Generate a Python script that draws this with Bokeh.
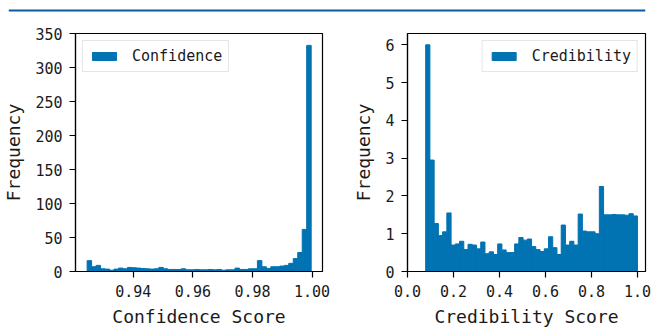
import numpy as np
from bokeh.plotting import figure
from bokeh.layouts import column, row
from bokeh.models import Range1d, FixedTicker, NumeralTickFormatter, Span, Legend, LegendItem, ColumnDataSource
from bokeh.embed import file_html
from bokeh.resources import INLINE

# ---------------- data ----------------
conf_lo, conf_hi = 0.9245, 0.9997
conf_counts = [16, 7, 9, 4, 3.5, 2, 3.5, 5, 4, 6,
               5.5, 5, 4.5, 4, 3.5, 4, 6, 4, 3, 3,
               3, 4, 2.5, 2.5, 3, 2.5, 2.5, 3, 2.5, 3,
               2, 2.5, 2.5, 5, 3, 3, 4, 4, 16, 7,
               4.5, 7, 7, 8, 9, 12, 19, 28, 62, 333]
cred_lo, cred_hi = 0.079, 1.0
cred_density = [6.0, 2.95, 1.27, 0.95, 1.05, 1.55, 0.70, 0.73, 0.80, 0.58,
                0.72, 0.70, 0.60, 0.78, 0.47, 0.52, 0.45, 0.73, 0.57, 0.50,
                0.50, 0.73, 0.90, 0.83, 0.86, 0.66, 0.58, 0.53, 0.60, 0.92,
                0.63, 0.45, 1.23, 0.70, 0.80, 0.70, 1.52, 1.07, 1.05, 1.05,
                1.00, 2.25, 1.50, 1.50, 1.51, 1.50, 1.50, 1.49, 1.53, 1.47]
conf_xticks = [0.94, 0.96, 0.98, 1.00]
conf_yticks = [0, 50, 100, 150, 200, 250, 300, 350]
cred_xticks = [0.0, 0.2, 0.4, 0.6, 0.8, 1.0]
cred_yticks = [0, 1, 2, 3, 4, 5, 6]

BAR = "#0173b2"
FONT = "DejaVu Sans Mono"
TXT = "#1a1a1a"


def edges(lo, hi, n):
    e = np.linspace(lo, hi, n + 1)
    return e[:-1], e[1:]


def style(p, xlabel):
    p.outline_line_color = "black"
    p.outline_line_width = 1.2
    p.xgrid.visible = False
    p.ygrid.visible = False
    p.background_fill_color = "white"
    p.border_fill_color = "white"
    for ax in (p.xaxis[0], p.yaxis[0]):
        ax.axis_line_width = 1.2
        ax.major_tick_line_width = 1.2
        ax.major_tick_out = 6
        ax.major_tick_in = 0
        ax.minor_tick_out = 0
        ax.minor_tick_in = 0
        ax.major_label_standoff = 7
        ax.major_label_text_font = FONT
        ax.major_label_text_font_size = "15px"
        ax.major_label_text_color = TXT
        ax.axis_label_text_font = FONT
        ax.axis_label_text_font_size = "18px"
        ax.axis_label_text_font_style = "normal"
        ax.axis_label_text_color = TXT
        ax.axis_label_standoff = 6
    p.yaxis[0].axis_label_standoff = 8
    p.xaxis.axis_label = xlabel
    p.yaxis.axis_label = "Frequency"


def add_legend(p, r, label, loc):
    leg = Legend(items=[LegendItem(label=label, renderers=[r])], location=loc)
    leg.margin = 7
    leg.padding = 6
    leg.spacing = 0
    leg.glyph_width = 30
    leg.glyph_height = 10
    leg.label_height = 15
    leg.label_standoff = 13
    leg.label_text_font = FONT
    leg.label_text_font_size = "15px"
    leg.label_text_color = TXT
    leg.border_line_color = "#cccccc"
    leg.border_line_width = 1
    leg.background_fill_alpha = 0.85
    p.add_layout(leg, "center")


# top rule
top = figure(width=651, height=20, output_backend="svg", toolbar_location=None,
             x_range=Range1d(0, 1), y_range=Range1d(0, 1),
             x_axis_location=None, y_axis_location=None,
             min_border_left=8, min_border_right=6, min_border_top=0, min_border_bottom=0)
top.outline_line_color = None
top.xgrid.visible = False
top.ygrid.visible = False
top.add_layout(Span(location=0.5, dimension="width", line_color="#0a5aa5", line_width=2.2))
top.scatter([0.5], [0.5], size=0, alpha=0)

# left: confidence
p1 = figure(width=350, height=309, output_backend="svg", toolbar_location=None,
            x_range=Range1d(0.9206, 1.0035), y_range=Range1d(0, 350.5),
            min_border_left=74, min_border_right=28, min_border_top=13, min_border_bottom=54)
l1, r1 = edges(conf_lo, conf_hi, len(conf_counts))
src1 = ColumnDataSource(dict(left=l1, right=r1, top=conf_counts, bottom=[0] * len(conf_counts)))
q1 = p1.quad(left="left", right="right", top="top", bottom="bottom", source=src1,
             fill_color=BAR, line_color=BAR, line_width=1.0)
style(p1, "Confidence Score")
p1.xaxis.ticker = FixedTicker(ticks=conf_xticks)
p1.xaxis.formatter = NumeralTickFormatter(format="0.00")
p1.yaxis.ticker = FixedTicker(ticks=conf_yticks)
add_legend(p1, q1, "Confidence", "top_left")

# right: credibility
p2 = figure(width=301, height=309, output_backend="svg", toolbar_location=None,
            x_range=Range1d(0.0, 1.035), y_range=Range1d(0, 6.3),
            min_border_left=49, min_border_right=6, min_border_top=13, min_border_bottom=54)
l2, r2 = edges(cred_lo, cred_hi, len(cred_density))
src2 = ColumnDataSource(dict(left=l2, right=r2, top=cred_density, bottom=[0] * len(cred_density)))
q2 = p2.quad(left="left", right="right", top="top", bottom="bottom", source=src2,
             fill_color=BAR, line_color=BAR, line_width=1.0)
style(p2, "Credibility Score")
p2.xaxis.ticker = FixedTicker(ticks=cred_xticks)
p2.xaxis.formatter = NumeralTickFormatter(format="0.0")
p2.yaxis.ticker = FixedTicker(ticks=cred_yticks)
add_legend(p2, q2, "Credibility", "top_right")

layout = column(top, row(p1, p2, spacing=0), spacing=0)
open("out.html", "w").write(file_html(layout, INLINE))
